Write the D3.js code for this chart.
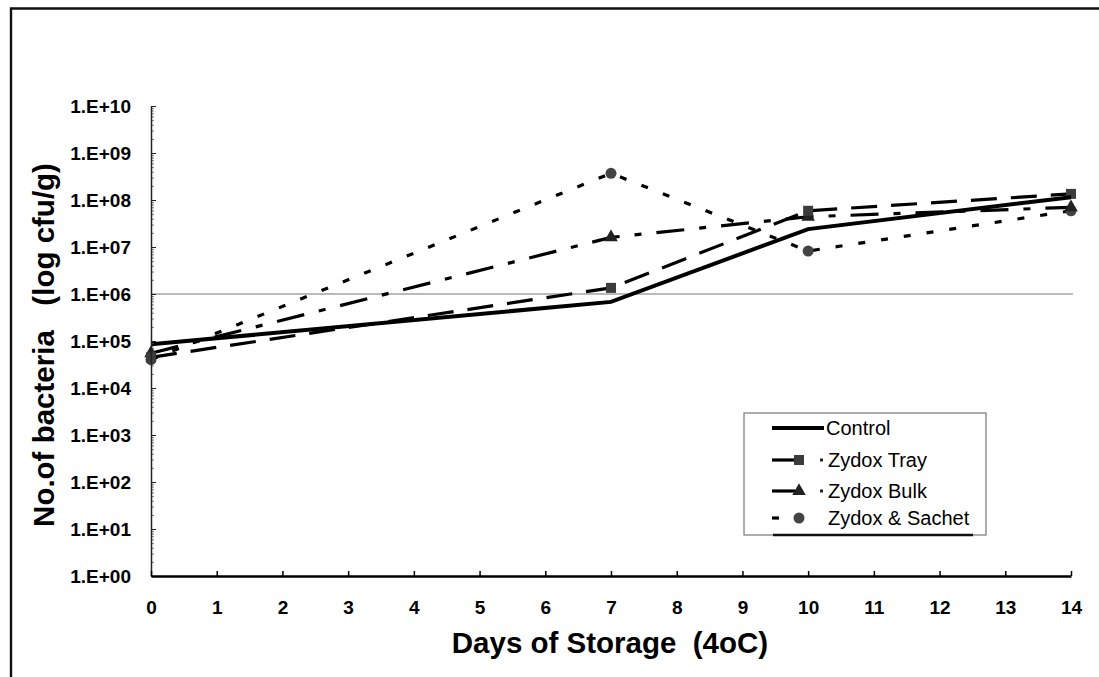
<!DOCTYPE html>
<meta charset="utf-8" />
<script src="https://d3js.org/d3.v7.min.js"></script>
<style>
  body { margin: 0; background: #fff; }
  text { font-family: "Liberation Sans", Arial, sans-serif; }
</style>
<body>
  <div id="chart"></div>
  <script>
    const days = [0, 7, 10, 14];
    const control = [8.5e4, 6.8e5, 2.4e7, 1.15e8];
    const zydoxTray = [4.5e4, 1.35e6, 5.9e7, 1.35e8];
    const zydoxBulk = [5.5e4, 1.6e7, 4.4e7, 7.0e7];
    const zydoxSachet = [4.0e4, 3.7e8, 8.2e6, 5.9e7];
    const seriesNames = ["Control", "Zydox Tray", "Zydox Bulk", "Zydox & Sachet"];

    const xTicks = [0, 1, 2, 3, 4, 5, 6, 7, 8, 9, 10, 11, 12, 13, 14];
    const yTicks = [1, 1e1, 1e2, 1e3, 1e4, 1e5, 1e6, 1e7, 1e8, 1e9, 1e10];
    const yTickLabels = ["1.E+00", "1.E+01", "1.E+02", "1.E+03", "1.E+04", "1.E+05",
      "1.E+06", "1.E+07", "1.E+08", "1.E+09", "1.E+10"];
    const refLevel = 1e6;

    var W = 1099, H = 677;
    var plotLeft = 151, plotRight = 1071, plotTop = 106, plotBottom = 576;

    var svg = d3.select("#chart").append("svg")
      .attr("width", W).attr("height", H);

    // frame (left and top edges only, as in the scan)
    svg.append("path")
      .attr("d", "M11,677 L11,8.5 L1099,8.5")
      .attr("fill", "none").attr("stroke", "#111").attr("stroke-width", 2.4);

    var x = d3.scaleLinear().domain([0, 14]).range([plotLeft, plotRight]);
    var y = d3.scaleLog().domain([1, 1e10]).range([plotBottom, plotTop]);

    // 1E+06 reference line
    svg.append("line")
      .attr("x1", x(0)).attr("x2", x(14) + 2)
      .attr("y1", y(refLevel)).attr("y2", y(refLevel))
      .attr("stroke", "#777").attr("stroke-width", 1.2);

    var series = [
      { name: seriesNames[0], values: control, dash: null, width: 4, marker: null },
      { name: seriesNames[1], values: zydoxTray, dash: "26,14", width: 3.2, marker: "square" },
      { name: seriesNames[2], values: zydoxBulk, dash: "28,15,7,15", width: 3.2, marker: "triangle" },
      { name: seriesNames[3], values: zydoxSachet, dash: "7,16", width: 3.2, marker: "circle" }
    ];

    var line = d3.line()
      .x(function (d, i) { return x(days[i]); })
      .y(function (d) { return y(d); });

    function drawMarker(g, type, cx, cy) {
      if (type === "square") {
        g.append("rect").attr("x", cx - 5).attr("y", cy - 5)
          .attr("width", 10).attr("height", 10).attr("fill", "#3c3c3c");
      } else if (type === "triangle") {
        g.append("path").attr("d", d3.symbol(d3.symbolTriangle, 80)())
          .attr("transform", "translate(" + cx + "," + cy + ")").attr("fill", "#222");
      } else if (type === "circle") {
        g.append("circle").attr("cx", cx).attr("cy", cy).attr("r", 5.5)
          .attr("fill", "#444");
      }
    }

    // draw in reverse so control sits on top
    series.slice().reverse().forEach(function (s) {
      svg.append("path")
        .datum(s.values)
        .attr("d", line)
        .attr("fill", "none")
        .attr("stroke", "#000")
        .attr("stroke-width", s.width)
        .attr("stroke-dasharray", s.dash);
      var g = svg.append("g");
      s.values.forEach(function (v, i) {
        drawMarker(g, s.marker, x(days[i]), y(v));
      });
    });

    // y axis: major ticks with labels, minor ticks inside
    var minor = [];
    for (var k = 0; k < 10; k++) {
      [2, 3, 4, 5, 6, 7, 8, 9].forEach(function (m) { minor.push(m * Math.pow(10, k)); });
    }
    svg.append("g")
      .attr("transform", "translate(" + plotLeft + ",0)")
      .call(d3.axisLeft(y).tickValues(minor).tickSize(-3).tickSizeOuter(0).tickFormat(""))
      .call(function (g) {
        g.select(".domain").remove();
        g.selectAll("line").attr("stroke", "#555").attr("stroke-width", 0.8);
      });

    var yAxis = svg.append("g")
      .attr("transform", "translate(" + plotLeft + ",0)")
      .call(d3.axisLeft(y).tickValues(yTicks).tickSize(-5).tickSizeOuter(0).tickPadding(20)
        .tickFormat(function (d, i) { return yTickLabels[i]; }));
    yAxis.select(".domain").attr("stroke", "#222").attr("stroke-width", 1.5);
    yAxis.selectAll("line").attr("stroke", "#222");
    yAxis.selectAll("text")
      .attr("fill", "#000")
      .style("font-size", "19px").style("font-weight", "bold");

    var xAxis = svg.append("g")
      .attr("transform", "translate(0," + plotBottom + ")")
      .call(d3.axisBottom(x).tickValues(xTicks).tickSize(-5).tickSizeOuter(0).tickPadding(25)
        .tickFormat(d3.format("d")));
    xAxis.select(".domain").attr("stroke", "#000").attr("stroke-width", 2.4);
    xAxis.selectAll("line").attr("stroke", "#000").attr("stroke-width", 1.5);
    xAxis.selectAll("text")
      .attr("fill", "#000")
      .style("font-size", "19px").style("font-weight", "bold");

    // axis titles
    svg.append("text")
      .attr("x", 610).attr("y", 653)
      .attr("text-anchor", "middle")
      .style("font-size", "29.5px").style("font-weight", "bold")
      .style("white-space", "pre")
      .text("Days of Storage  (4oC)");

    svg.append("text")
      .attr("transform", "translate(54,345) rotate(-90)")
      .attr("text-anchor", "middle")
      .style("font-size", "29.5px").style("font-weight", "bold")
      .style("white-space", "pre")
      .text("No.of bacteria   (log cfu/g)");

    // legend
    var lg = svg.append("g");
    lg.append("rect")
      .attr("x", 744).attr("y", 413).attr("width", 242).attr("height", 122)
      .attr("fill", "#fff").attr("stroke", "#777").attr("stroke-width", 1.2);
    lg.append("line")
      .attr("x1", 773).attr("x2", 973).attr("y1", 535).attr("y2", 535)
      .attr("stroke", "#111").attr("stroke-width", 2.4);
    var legendY = [428, 460, 491, 518];
    series.forEach(function (s, i) {
      var ly = legendY[i];
      lg.append("line")
        .attr("x1", 772).attr("x2", i === 0 ? 824 : 795)
        .attr("y1", ly).attr("y2", ly)
        .attr("stroke", "#000").attr("stroke-width", s.width)
        .attr("stroke-dasharray", i === 3 ? "7,16" : null);
      if (s.marker) drawMarker(lg, s.marker, 799, ly);
      if (i === 1 || i === 2) {
        lg.append("rect").attr("x", 820).attr("y", ly - 1.5)
          .attr("width", 3).attr("height", 3).attr("fill", "#222");
      }
      lg.append("text")
        .attr("x", i === 0 ? 826 : 828).attr("y", ly + 7)
        .style("font-size", "20px")
        .text(s.name);
    });
  </script>
</body>
